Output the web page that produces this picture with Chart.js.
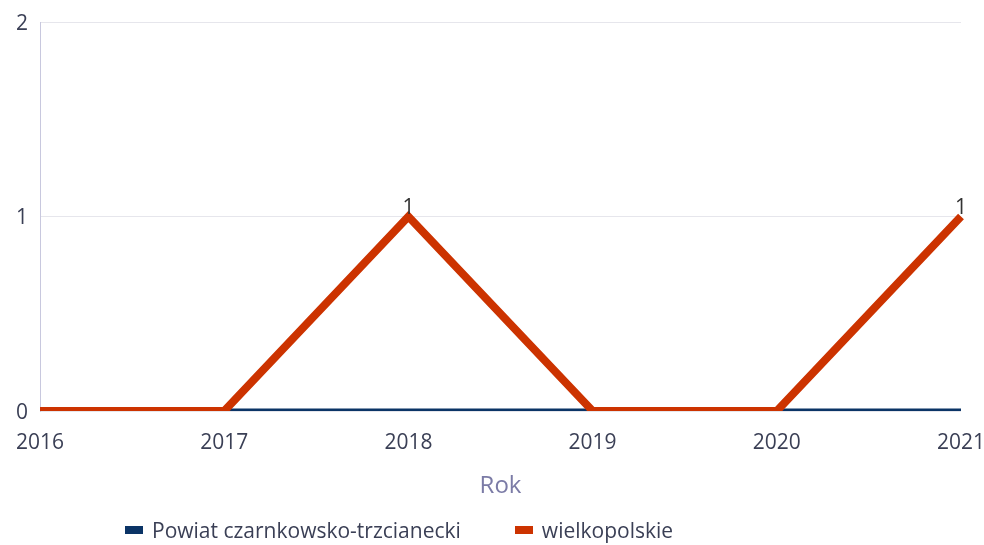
<!DOCTYPE html>
<html>
<head>
<meta charset="utf-8">
<script src="https://cdn.jsdelivr.net/npm/chart.js@4.4.1/dist/chart.umd.min.js"></script>
<style>
  html, body { margin: 0; padding: 0; background: #fff; }
  #wrap { position: relative; width: 984px; height: 545px; }
  #leyenda {
    position: absolute; left: 125px; top: 516px;
    font: 21px "Open Sans", sans-serif; color: #3a3f55;
    display: flex; align-items: center; white-space: nowrap;
  }
  .item { display: flex; align-items: center; margin-right: 54px; }
  .caja { width: 18px; height: 8px; margin-right: 9px; }
</style>
</head>
<body>
<div id="wrap">
  <canvas id="grafico"></canvas>
  <div id="leyenda"></div>
</div>
<script>
const lata = ['2016', '2017', '2018', '2019', '2020', '2021'];
const wartosciPowiat = [0, 0, 0, 0, 0, 0];
const wartosciWojewodztwo = [0, 0, 1, 0, 0, 1];
const etykietyOsiY = [0, 1, 2];

const kolorTekstu = '#3a3f55';
const fuente = '"Open Sans", sans-serif';

// Etykiety wartości nad punktami (tylko niezerowe)
const etykietyPunktow = {
    id: 'etykietyPunktow',
    afterDatasetsDraw(chart) {
        const ctx = chart.ctx;
        const meta = chart.getDatasetMeta(1);
        ctx.save();
        ctx.font = '21px ' + fuente;
        ctx.fillStyle = '#333';
        ctx.textAlign = 'center';
        ctx.textBaseline = 'alphabetic';
        meta.data.forEach((pt, i) => {
            const v = wartosciWojewodztwo[i];
            if (v !== 0) {
                ctx.fillText(String(v), pt.x, pt.y - 3);
            }
        });
        ctx.restore();
    }
};

const ctxGrafico = document.getElementById('grafico').getContext('2d');
const grafico = new Chart(ctxGrafico, {
    type: 'line',
    data: {
        labels: lata,
        datasets: [{
            label: 'Powiat czarnkowsko-trzcianecki',
            data: wartosciPowiat,
            borderColor: '#0b3466',
            backgroundColor: '#0b3466',
            borderWidth: 5,
            pointRadius: 0,
            tension: 0,
            order: 2
        }, {
            label: 'wielkopolskie',
            data: wartosciWojewodztwo,
            borderColor: '#cc3300',
            backgroundColor: '#cc3300',
            borderWidth: 8,
            pointRadius: 0,
            tension: 0,
            order: 1
        }]
    },
    options: {
        responsive: true,
        maintainAspectRatio: false,
        animation: false,
        layout: { padding: { left: 0, right: 23, top: 22, bottom: 44 } },
        scales: {
            x: {
                grid: { display: false },
                border: { display: false },
                afterFit: (eje) => {
                    eje.paddingLeft = 0;
                    eje.paddingRight = 0;
                    eje.height = 90;
                },
                ticks: {
                    color: kolorTekstu,
                    font: { size: 21, family: fuente },
                    maxRotation: 0,
                    padding: 11
                },
                title: {
                    display: true,
                    text: 'Rok',
                    color: '#7b7ba6',
                    font: { size: 24, family: fuente },
                    padding: { top: 18, bottom: 0 }
                }
            },
            y: {
                min: 0,
                max: 2,
                afterBuildTicks: (eje) => {
                    eje.ticks = etykietyOsiY.map(v => ({ value: v }));
                },
                afterFit: (eje) => {
                    eje.width = 40;
                    eje.paddingTop = 0;
                    eje.paddingBottom = 0;
                },
                grid: { color: '#e6e6ec', drawTicks: false },
                border: { display: true, color: '#c8c8de', width: 1 },
                ticks: {
                    color: kolorTekstu,
                    font: { size: 21, family: fuente },
                    padding: 12,
                    labelOffset: 2
                }
            }
        },
        plugins: {
            legend: { display: false },
            tooltip: { enabled: false }
        }
    },
    plugins: [etykietyPunktow]
});

// Leyenda en HTML
const leyenda = document.getElementById('leyenda');
grafico.data.datasets.forEach(ds => {
    const item = document.createElement('div');
    item.className = 'item';
    const caja = document.createElement('span');
    caja.className = 'caja';
    caja.style.background = ds.borderColor;
    const texto = document.createElement('span');
    texto.textContent = ds.label;
    item.appendChild(caja);
    item.appendChild(texto);
    leyenda.appendChild(item);
});
</script>
</body>
</html>
